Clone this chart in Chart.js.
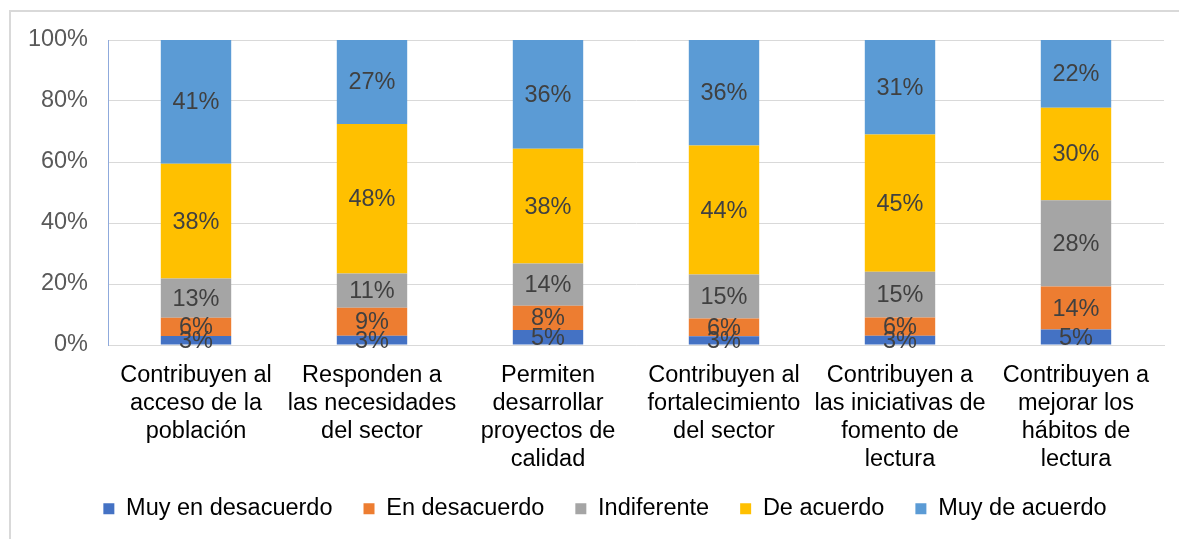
<!DOCTYPE html><html lang="es"><head><meta charset="utf-8">
<title>Encuesta - barras 100%</title>
<script src="https://cdn.jsdelivr.net/npm/chart.js@4.4.0/dist/chart.umd.min.js"></script>
<style>
  html, body { margin: 0; padding: 0; background: #fff; }
  #wrap { position: relative; width: 1179px; height: 539px; overflow: hidden; }
  #frame { position: absolute; left: 9px; top: 10px; width: 1200px; height: 600px;
           border-left: 2px solid #d9d9d9; border-top: 2px solid #d9d9d9; box-sizing: border-box; }
  #chart { position: absolute; left: 0; top: 0; }
</style>
</head>
<body>
<div id="wrap">
  <div id="frame"></div>
  <canvas id="chart" width="1179" height="539"></canvas>
</div>
<script>
  // categorías (etiquetas del eje x, en varias líneas)
  const categories = [
    ['Contribuyen al', 'acceso de la', 'población'],
    ['Responden a', 'las necesidades', 'del sector'],
    ['Permiten', 'desarrollar', 'proyectos de', 'calidad'],
    ['Contribuyen al', 'fortalecimiento', 'del sector'],
    ['Contribuyen a', 'las iniciativas de', 'fomento de', 'lectura'],
    ['Contribuyen a', 'mejorar los', 'hábitos de', 'lectura']
  ];

  // porcentajes que aparecen en las etiquetas
  const muyEnDesacuerdo = [3, 3, 5, 3, 3, 5];
  const enDesacuerdo    = [6, 9, 8, 6, 6, 14];
  const indiferente     = [13, 11, 14, 15, 15, 28];
  const deAcuerdo       = [38, 48, 38, 44, 45, 30];
  const muyDeAcuerdo    = [41, 27, 36, 36, 31, 22];

  const seriesNames  = ['Muy en desacuerdo', 'En desacuerdo', 'Indiferente', 'De acuerdo', 'Muy de acuerdo'];
  const seriesColors = ['#4472C4', '#ED7D31', '#A5A5A5', '#FFC000', '#5B9BD5'];
  const yTicks = [0, 20, 40, 60, 80, 100];

  const FONT = '"Liberation Sans", Arial, sans-serif';
  const FS = 23.5;
  const raw = [muyEnDesacuerdo, enDesacuerdo, indiferente, deAcuerdo, muyDeAcuerdo];

  // barras apiladas al 100%: cada columna se normaliza a su total
  const totals = categories.map((c, i) => raw.reduce((s, arr) => s + arr[i], 0));

  const datasets = raw.map((arr, k) => ({
    label: seriesNames[k],
    data: arr.map((v, i) => v / totals[i] * 100),
    rawValues: arr,
    backgroundColor: seriesColors[k],
    borderWidth: 0,
    categoryPercentage: 1.0,
    barPercentage: 0.4
  }));

  // etiquetas de datos en el centro de cada segmento
  const dataLabels = {
    id: 'dataLabels',
    afterDatasetsDraw(chart) {
      const ctx = chart.ctx;
      ctx.save();
      ctx.font = FS + 'px ' + FONT;
      ctx.fillStyle = '#404040';
      ctx.textAlign = 'center';
      ctx.textBaseline = 'middle';
      chart.data.datasets.forEach((ds, k) => {
        const meta = chart.getDatasetMeta(k);
        meta.data.forEach((bar, i) => {
          const yc = (bar.y + bar.base) / 2;
          ctx.fillText(ds.rawValues[i] + '%', bar.x, yc + 1);
        });
      });
      ctx.restore();
    }
  };

  // la leyenda del original está un poco desplazada (derecha / arriba)
  const legendShift = {
    id: 'legendShift',
    afterLayout(chart) {
      const lg = chart.legend;
      if (lg) {
        lg.left += 17;
        lg.right += 17;
        lg.top -= 9;
        lg.bottom -= 9;
      }
    }
  };

  new Chart(document.getElementById('chart'), {
    type: 'bar',
    data: { labels: categories, datasets: datasets },
    options: {
      responsive: false,
      animation: false,
      layout: { padding: { left: 12, right: 15, top: 40, bottom: 10 } },
      plugins: {
        tooltip: { enabled: false },
        legend: {
          position: 'bottom',
          maxHeight: 54,
          labels: {
            font: { family: FONT, size: FS },
            color: '#000',
            boxWidth: 11,
            boxHeight: 11,
            padding: 31
          }
        }
      },
      scales: {
        x: {
          stacked: true,
          grid: { display: false, drawTicks: false },
          border: { color: '#d9d9d9', width: 1 },
          ticks: {
            font: { family: FONT, size: FS, lineHeight: 1.2 },
            color: '#000',
            padding: 16,
            maxRotation: 0,
            autoSkip: false
          },
          afterFit(scale) { scale.height = 130; }
        },
        y: {
          stacked: true,
          min: 0,
          max: 100,
          grid: { color: '#d9d9d9', lineWidth: 1, drawTicks: false },
          border: { color: '#8FAADC', width: 1 },
          afterBuildTicks(scale) { scale.ticks = yTicks.map(v => ({ value: v })); },
          ticks: {
            font: { family: FONT, size: FS },
            color: '#595959',
            padding: 20,
            callback: v => v + '%'
          },
          afterFit(scale) { scale.width = 96; }
        }
      }
    },
    plugins: [dataLabels, legendShift]
  });
</script>
</body>
</html>
